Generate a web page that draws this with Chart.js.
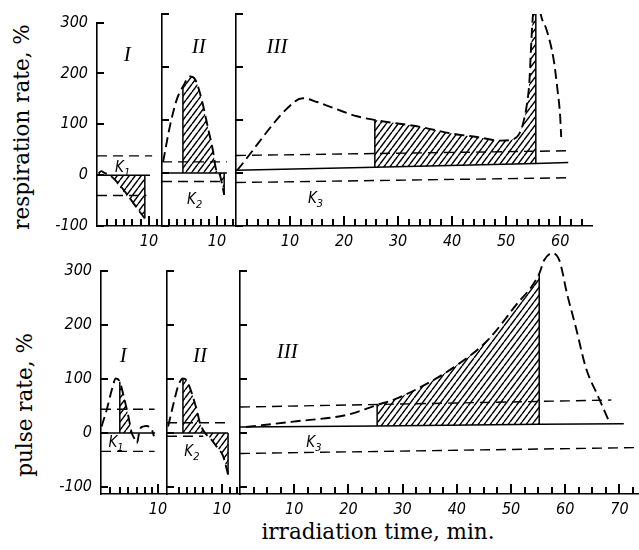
<!DOCTYPE html>
<html>
<head>
<meta charset="utf-8">
<script src="https://cdn.jsdelivr.net/npm/chart.js@4.4.1/dist/chart.umd.min.js"></script>
<style>
    body { margin: 0; background: #fff; }
    #wrap { position: relative; width: 639px; height: 550px; overflow: hidden; background: #fff; }
    #wrap canvas { position: absolute; }
    .title {
        position: absolute;
        width: 300px; height: 26px; line-height: 26px;
        text-align: center; white-space: nowrap;
        font-family: 'DejaVu Serif', 'Liberation Serif', serif;
        font-size: 21.5px; color: #000;
    }
    .rot { transform: rotate(-90deg); }
</style>
</head>
<body>
<div id="wrap">
    <div class="title rot" style="left:-128px; top:114px;">respiration rate, %</div>
    <div class="title rot" style="left:-125px; top:392px;">pulse rate, %</div>
    <div class="title" style="left:228px; top:519px;">irradiation time, min.</div>
</div>
<script>
/**
 * Respiration and pulse rate vs irradiation time, phases I, II, III
 * values: [time (min), rate (%)]
 */

// ---- respiration rate ----
const respI_curve = [[0.3, 3], [0.8, 8], [1.5, 4], [2.5, 0], [9.2, -85]];
const respI_base = [[0, 0], [2.5, 0], [9.2, 0], [10.2, 0]];
const respI_kUp = [[0, 38], [10.6, 38]];
const respI_kLow = [[0, -40], [9.5, -40]];
const respI_hatch = [2.5, 9.2];

const respII_curve = [[0.2, 21], [1.45, 89], [2.7, 139], [3.8, 163], [5.1, 182], [6, 177], [7.2, 139],
    [8.4, 83], [9.3, 40], [9.8, 8], [10.5, -3], [11.3, -41]];
const respII_base = [[0, 0], [3.8, 0], [11.3, 0], [11.8, 0]];
const respII_kUp = [[0, 21], [11.8, 21]];
const respII_kLow = [[0, -16], [11.3, -16]];
const respII_hatch = [3.8, 11.3];

const respIII_curve = [[0.2, 5], [10.9, 135], [12.4, 141], [15, 134], [18.7, 120], [22.4, 107], [25.7, 100],
    [34.1, 87], [40.2, 74], [44.6, 68], [48.9, 61], [51.4, 64], [52.6, 77], [53.2, 96], [53.8, 126],
    [54.3, 171], [54.6, 233], [54.9, 289], [55.5, 330]];
const respIII_tail = [[56.3, 305], [56.6, 292], [57.5, 270], [58.8, 214], [59.5, 158], [60, 108], [60.2, 68]];
const respIII_base = [[0, 5], [25.7, 11], [55.5, 18], [61.5, 20]];
const respIII_kUp = [[0, 33], [62, 42]];
const respIII_kLow = [[0, -18], [61.5, -9]];
const respIII_hatch = [25.7, 55.5];

// ---- pulse rate ----
const pulseI_curve = [[0.1, 12], [1, 43], [1.9, 80], [2.6, 101], [3.3, 95], [4, 67], [4.8, 31], [5.4, 0],
    [5.8, -9], [6.3, -19], [6.8, 6], [7.4, 12], [8, 13], [8.9, 6], [9.3, -6]];
const pulseI_base = [[0, 0], [3.3, 0], [5.4, 0], [9.5, 0]];
const pulseI_kUp = [[0, 44], [9.4, 44]];
const pulseI_kLow = [[0, -34], [9.4, -34]];
const pulseI_hatch = [3.3, 5.4];

const pulseII_curve = [[0.2, 12], [1.2, 55], [2.1, 89], [2.9, 101], [3.6, 97], [4.5, 74], [5.4, 43], [6, 18],
    [6.9, 0], [7.8, -9], [9, -25], [10.2, -43], [11.1, -77]];
const pulseII_base = [[0, 0], [2.9, 0], [11.1, 0]];
const pulseII_kUp = [[0, 19], [11.1, 19]];
const pulseII_kLow = [[0, -6], [6.6, -6]];
const pulseII_hatch = [2.9, 11.1];

const pulseIII_curve = [[1.1, 11], [9.8, 21], [19.9, 34], [25.3, 52], [29.2, 65], [39.5, 122], [45.8, 173],
    [50.6, 233], [55.2, 295], [56.1, 320], [57.7, 333], [58.9, 320], [59.6, 293], [60.1, 268], [62, 194],
    [63.8, 121], [66.1, 67], [68.1, 21]];
const pulseIII_base = [[0, 11], [25.3, 13], [55.2, 16], [70.8, 17]];
const pulseIII_kUp = [[0, 48], [68.5, 61]];
const pulseIII_kLow = [[0, -38], [73.4, -27]];
const pulseIII_hatch = [25.3, 55.2];

// ---- axes ----
const rateTicks = [-100, 0, 100, 200, 300];
const respI_timeTicks = [2, 3.6, 5.2, 6.8, 8.4, 10, 11.6];
const respII_timeTicks = [1.3, 2.8, 4.2, 5.7, 7.1, 8.6, 10, 11.4, 12.9];
const respIII_timeTicks = [2, 4, 6, 8, 10, 12, 14, 16, 18, 20, 22, 24, 26, 28, 30, 32, 34, 36, 38, 40,
    42, 44, 46, 48, 50, 52, 54, 56, 58, 60, 62, 64];
const pulseI_timeTicks = [1.6, 3.3, 4.8, 6.3, 7.7, 8.9, 10];
const pulseII_timeTicks = [2.1, 3.6, 5.1, 6.6, 8.1, 10, 11.5, 12.7];
const pulseIII_timeTicks = [2.5, 5, 7.5, 10, 12.5, 15, 17.5, 20, 22.5, 25, 27.5, 30, 32.5, 35, 37.5, 40,
    42.5, 45, 47.5, 50, 52.5, 55, 57.5, 60, 62.5, 65, 67.5, 70, 72.5];
const shortTimeLabels = [10];
const respIII_timeLabels = [10, 20, 30, 40, 50, 60];
const pulseIII_timeLabels = [10, 20, 30, 40, 50, 60, 70];

// Panel layout (page pixels) and annotations
const PANELS = [
    { curve: respI_curve, base: respI_base, kUp: respI_kUp, kLow: respI_kLow, hatch: respI_hatch,
      xTicks: respI_timeTicks, xLabels: shortTimeLabels, xMax: 12.5, yMin: -100, yMax: 300, yLabels: true,
      left: 97, right: 162, top: 14, bottom: 226, padL: 97,
      notes: [{ x: 5.8, y: 236, roman: 'I' }, { x: 4.8, y: 14, k: '1' }] },
    { curve: respII_curve, base: respII_base, kUp: respII_kUp, kLow: respII_kLow, hatch: respII_hatch,
      xTicks: respII_timeTicks, xLabels: shortTimeLabels, xMax: 13.45, yMin: -100, yMax: 300,
      left: 162, right: 236, top: 14, bottom: 226, padL: 12,
      notes: [{ x: 6.7, y: 236, roman: 'II' }, { x: 5.8, y: -51, k: '2' }] },
    { curve: respIII_curve, tail: respIII_tail, base: respIII_base, kUp: respIII_kUp, kLow: respIII_kLow,
      hatch: respIII_hatch, xTicks: respIII_timeTicks, xLabels: respIII_timeLabels, xMax: 65.9,
      yMin: -100, yMax: 300, left: 236, right: 592, top: 14, bottom: 226, padL: 12,
      notes: [{ x: 7.6, y: 236, roman: 'III' }, { x: 14.6, y: -49, k: '3' }] },
    { curve: pulseI_curve, base: pulseI_base, kUp: pulseI_kUp, kLow: pulseI_kLow, hatch: pulseI_hatch,
      xTicks: pulseI_timeTicks, xLabels: shortTimeLabels, xMax: 11.58, yMin: -113, yMax: 300, yLabels: true,
      left: 101, right: 167, top: 271, bottom: 494, padL: 101,
      notes: [{ x: 3.9, y: 141, roman: 'I' }, { x: 2.5, y: -18, k: '1' }] },
    { curve: pulseII_curve, base: pulseII_base, kUp: pulseII_kUp, kLow: pulseII_kLow, hatch: pulseII_hatch,
      xTicks: pulseII_timeTicks, xLabels: shortTimeLabels, xMax: 13.27, yMin: -113, yMax: 300,
      left: 167, right: 240, top: 271, bottom: 494, padL: 12,
      notes: [{ x: 6, y: 141, roman: 'II' }, { x: 4.4, y: -35, k: '2' }] },
    { curve: pulseIII_curve, base: pulseIII_base, kUp: pulseIII_kUp, kLow: pulseIII_kLow, hatch: pulseIII_hatch,
      xTicks: pulseIII_timeTicks, xLabels: pulseIII_timeLabels, xMax: 73.6, yMin: -113, yMax: 300,
      left: 240, right: 639, top: 271, bottom: 494, padL: 12, padR: 0, noClip: true,
      notes: [{ x: 8.7, y: 150, roman: 'III' }, { x: 13.5, y: -18, k: '3' }] }
];

const TICK_FONT = { family: "'DejaVu Sans Condensed', 'DejaVu Sans', sans-serif", size: 16, style: 'italic' };

/**
 * Diagonal hatching used for the shaded areas
 */
function makeHatch() {
    const c = document.createElement('canvas');
    c.width = 6;
    c.height = 8;
    const g = c.getContext('2d');
    g.strokeStyle = '#000';
    g.lineWidth = 1.4;
    g.beginPath();
    [-6, 0, 6].forEach(dx => {
        g.moveTo(dx, 8);
        g.lineTo(dx + 6, 0);
    });
    g.stroke();
    return g.createPattern(c, 'repeat');
}
const hatchFill = makeHatch();

function pts(arr) {
    return arr.map(p => ({ x: p[0], y: p[1] }));
}

function lineSet(arr, style, extra) {
    return Object.assign({
        data: pts(arr),
        borderColor: '#000',
        pointRadius: 0,
        fill: false,
        tension: 0
    }, style, extra || {});
}

const SOLID = { borderWidth: 1.5 };
const KDASH = { borderWidth: 1.4, borderDash: [10, 6] };
const CURVE = { borderWidth: 1.9, borderDash: [10, 5], cubicInterpolationMode: 'monotone' };

// inward tick marks + roman numerals and K labels
const panelDecor = {
    id: 'panelDecor',
    afterDraw(chart, args, opts) {
        const ctx = chart.ctx;
        const a = chart.chartArea;
        const x = chart.scales.x;
        const y = chart.scales.y;
        const p = PANELS[opts.index];
        ctx.save();
        ctx.setLineDash([]);
        ctx.globalAlpha = 1;
        ctx.fillStyle = '#000';
        const axisY = Math.round(x.top);
        p.xTicks.forEach(v => {
            const px = Math.round(x.getPixelForValue(v));
            const len = p.xLabels.indexOf(v) >= 0 ? 10 : 7;
            ctx.fillRect(px - 1, axisY - len, 2, len);
        });
        rateTicks.forEach(v => {
            const py = Math.round(y.getPixelForValue(v));
            ctx.fillRect(a.left, py - 1, 7, 2);
        });

        ctx.textBaseline = 'middle';
        p.notes.forEach(n => {
            const nx = x.getPixelForValue(n.x);
            const ny = y.getPixelForValue(n.y);
            if (n.roman) {
                ctx.font = "italic 21px 'Liberation Serif', 'DejaVu Serif', serif";
                ctx.textAlign = 'center';
                ctx.fillText(n.roman, nx, ny);
            } else {
                ctx.font = "italic 15px 'DejaVu Sans Condensed', 'DejaVu Sans', sans-serif";
                ctx.textAlign = 'right';
                ctx.fillText('K', nx + 2, ny);
                ctx.font = "italic 11px 'DejaVu Sans Condensed', 'DejaVu Sans', sans-serif";
                ctx.textAlign = 'left';
                ctx.fillText(n.k, nx + 2, ny + 5);
            }
        });
        ctx.restore();
    }
};

function buildPanel(p, index) {
    const wrap = document.getElementById('wrap');
    const padT = p.top < 100 ? 10 : 25;
    const padB = 28;
    const padR = p.padR === undefined ? 12 : p.padR;
    const w = p.right - p.left + p.padL + padR;
    const h = p.bottom - p.top + padT + padB;

    const canvas = document.createElement('canvas');
    canvas.width = w;
    canvas.height = h;
    canvas.style.left = (p.left - p.padL) + 'px';
    canvas.style.top = (p.top - padT) + 'px';
    canvas.style.width = w + 'px';
    canvas.style.height = h + 'px';
    wrap.appendChild(canvas);

    const [h0, h1] = p.hatch;
    const datasets = [];
    datasets.push(lineSet(p.base, SOLID));                 // 0: baseline
    datasets.push(lineSet(p.kUp, KDASH));
    datasets.push(lineSet(p.kLow, KDASH));
    datasets.push(lineSet(p.curve.filter(q => q[0] >= h0 && q[0] <= h1), { borderWidth: 0 }, {
        backgroundColor: hatchFill,
        fill: { target: 0 },
        cubicInterpolationMode: 'monotone'
    }));
    p.hatch.forEach(xe => {
        const b = p.base.find(q => q[0] === xe);
        const c = p.curve.find(q => q[0] === xe);
        datasets.push(lineSet([b, c], SOLID));
    });
    datasets.push(lineSet(p.curve, CURVE, p.noClip ? { clip: false } : {}));
    if (p.tail) datasets.push(lineSet(p.tail, CURVE));

    return new Chart(canvas, {
        type: 'line',
        data: { datasets },
        plugins: [panelDecor],
        options: {
            responsive: false,
            animation: false,
            devicePixelRatio: 1,
            events: [],
            layout: { padding: { left: 0, top: padT, right: padR, bottom: 0 } },
            plugins: {
                legend: { display: false },
                tooltip: { enabled: false },
                panelDecor: { index }
            },
            scales: {
                x: {
                    type: 'linear',
                    position: 'bottom',
                    min: 0,
                    max: p.xMax,
                    grid: { display: false, drawTicks: false },
                    border: { display: true, color: '#000', width: 1.6 },
                    afterBuildTicks: s => { s.ticks = p.xTicks.map(v => ({ value: v })); },
                    afterFit: s => { s.height = padB; },
                    ticks: {
                        autoSkip: false,
                        maxRotation: 0,
                        minRotation: 0,
                        padding: 6,
                        color: '#000',
                        font: TICK_FONT,
                        callback: v => p.xLabels.includes(v) ? String(v) : ''
                    }
                },
                y: {
                    type: 'linear',
                    position: 'left',
                    min: p.yMin,
                    max: p.yMax,
                    grid: { display: false, drawTicks: false },
                    border: { display: true, color: '#000', width: 1.6 },
                    afterBuildTicks: s => { s.ticks = rateTicks.map(v => ({ value: v })); },
                    afterFit: s => { s.width = p.padL; },
                    ticks: {
                        display: !!p.yLabels,
                        padding: 9,
                        color: '#000',
                        font: TICK_FONT,
                        callback: v => String(v)
                    }
                }
            }
        }
    });
}

PANELS.forEach(buildPanel);
</script>
</body>
</html>
